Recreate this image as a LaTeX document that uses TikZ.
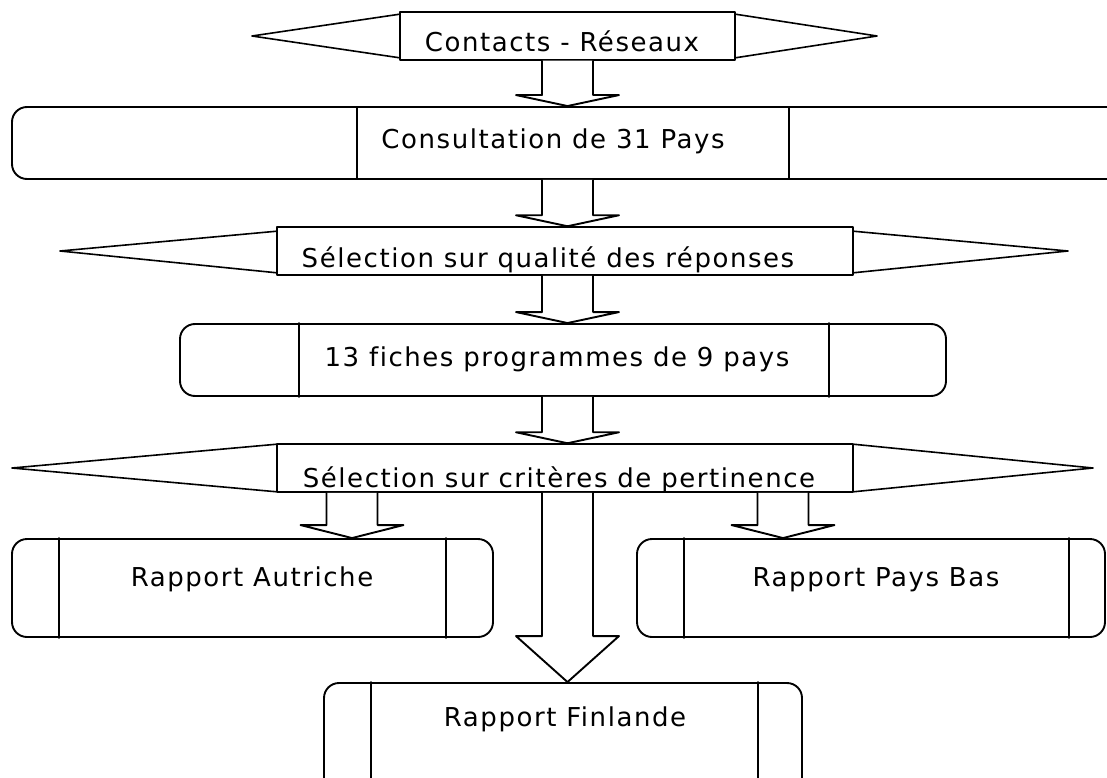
\documentclass[tikz,border=0pt]{standalone}
\usepackage{fontspec}
\setmainfont{DejaVu Sans}[LetterSpace=6,Ligatures=NoCommon]
\usepackage{tikz}
\usetikzlibrary{calc}
\tikzstyle{every node}=[font=\fontsize{26}{30}\selectfont]
\tikzstyle{cadre}=[draw, line width=1.9pt, rounded corners=15pt, inner sep=0pt]
\tikzstyle{boite}=[draw, line width=1.5pt, inner sep=0pt]
\tikzstyle{texte}=[anchor=base, inner sep=0pt]
\tikzstyle{bloc}=[line width=1.9pt, fill=white]
\tikzstyle{pointe}=[line width=1.6pt]
\tikzstyle{trait}=[line width=1.9pt]

% fleche creuse : depart, arrivee, axe, hauteur de la pointe
\newcommand{\fleche}[4]{%
  \draw[bloc] let \p1=(#1.south), \p2=(#2.north), \p3=(#3) in
    (\x3-25.5pt,\y1) -- (\x3-25.5pt,\y2+#4) -- (\x3-51.5pt,\y2+#4) -- (\x3,\y2)
    -- (\x3+51.5pt,\y2+#4) -- (\x3+25.5pt,\y2+#4) -- (\x3+25.5pt,\y1);
}

\begin{document}
\begin{tikzpicture}[line cap=round,line join=round,x=1pt,y=-1pt]
            \useasboundingbox (0,0) rectangle (1107,778);
            \clip (0,0) rectangle (1107,778);
            \coordinate (axe) at (567.5,0);
            \coordinate (axeA) at (352,0);
            \coordinate (axeB) at (783,0);
            % boites
            \node[boite, minimum width=335pt, minimum height=48pt] (contacts) at (567.5,36) {};
            \node[cadre, minimum width=1113pt, minimum height=72pt] (consultcadre) at (568.5,143) {};
            \node[boite, line width=1.9pt, minimum width=432pt, minimum height=72pt] (consult) at (573,143) {};
            \node[boite, minimum width=576pt, minimum height=48pt] (qualite) at (565,251) {};
            \node[cadre, minimum width=766pt, minimum height=72pt] (fiches) at (563,360) {};
            \node[boite, minimum width=576pt, minimum height=48pt] (criteres) at (565,468) {};
            \node[cadre, minimum width=481pt, minimum height=98pt] (autriche) at (252.5,588) {};
            \node[cadre, minimum width=468pt, minimum height=98pt] (paysbas) at (871,588) {};
            \node[cadre, minimum width=478pt, minimum height=117pt] (finlande) at (563,741.5) {};
            % traits verticaux
            \draw[trait] ($(fiches.north west)+(120,0)$) -- ($(fiches.south west)+(120,0)$);
            \draw[trait] ($(fiches.north east)+(-118,0)$) -- ($(fiches.south east)+(-118,0)$);
            \draw[trait] ($(autriche.north west)+(48,0)$) -- ($(autriche.south west)+(48,0)$);
            \draw[trait] ($(autriche.north east)+(-48,0)$) -- ($(autriche.south east)+(-48,0)$);
            \draw[trait] ($(paysbas.north west)+(48,0)$) -- ($(paysbas.south west)+(48,0)$);
            \draw[trait] ($(paysbas.north east)+(-37,0)$) -- ($(paysbas.south east)+(-37,0)$);
            \draw[trait] ($(finlande.north west)+(48,0)$) -- ($(finlande.south west)+(48,0)$);
            \draw[trait] ($(finlande.north east)+(-45,0)$) -- ($(finlande.south east)+(-45,0)$);
            % pointes laterales
            \draw[pointe] ([yshift=-3pt]contacts.north west) -- (252,36) -- ([yshift=3pt]contacts.south west);
            \draw[pointe] ([yshift=-3pt]contacts.north east) -- (877,36) -- ([yshift=3pt]contacts.south east);
            \draw[pointe] ([yshift=-5pt]qualite.north west) -- (60,251) -- ([yshift=3pt]qualite.south west);
            \draw[pointe] ([yshift=-5pt]qualite.north east) -- (1068,251) -- ([yshift=3pt]qualite.south east);
            \draw[pointe] ([yshift=-1pt]criteres.north west) -- (12,468) -- ([yshift=1pt]criteres.south west);
            \draw[pointe] ([yshift=-1pt]criteres.north east) -- (1093,468) -- ([yshift=1pt]criteres.south east);
            % fleches
            \fleche{contacts}{consult}{axe}{11pt}
            \fleche{consult}{qualite}{axe}{11pt}
            \fleche{qualite}{fiches}{axe}{11pt}
            \fleche{fiches}{criteres}{axe}{11pt}
            \fleche{criteres}{autriche}{axeA}{13pt}
            \fleche{criteres}{paysbas}{axeB}{13pt}
            \fleche{criteres}{finlande}{axe}{46pt}
            % textes
            \node[texte] (tcontacts) at (562,52) {Contacts - Réseaux};
            \node[texte] (tconsult) at (553,149) {Consultation de 31 Pays};
            \node[texte] (tqualite) at (548,267) {Sélection sur qualité des réponses};
            \node[texte] (tfiches) at (557,366) {13 fiches programmes de 9 pays};
            \node[texte] (tcriteres) at (559,487) {Sélection sur critères de pertinence};
            \node[texte] (tautriche) at (252,586) {Rapport Autriche};
            \node[texte] (tpaysbas) at (876,586) {Rapport Pays Bas};
            \node[texte] (tfinlande) at (565,726) {Rapport Finlande};
\end{tikzpicture}
\end{document}
